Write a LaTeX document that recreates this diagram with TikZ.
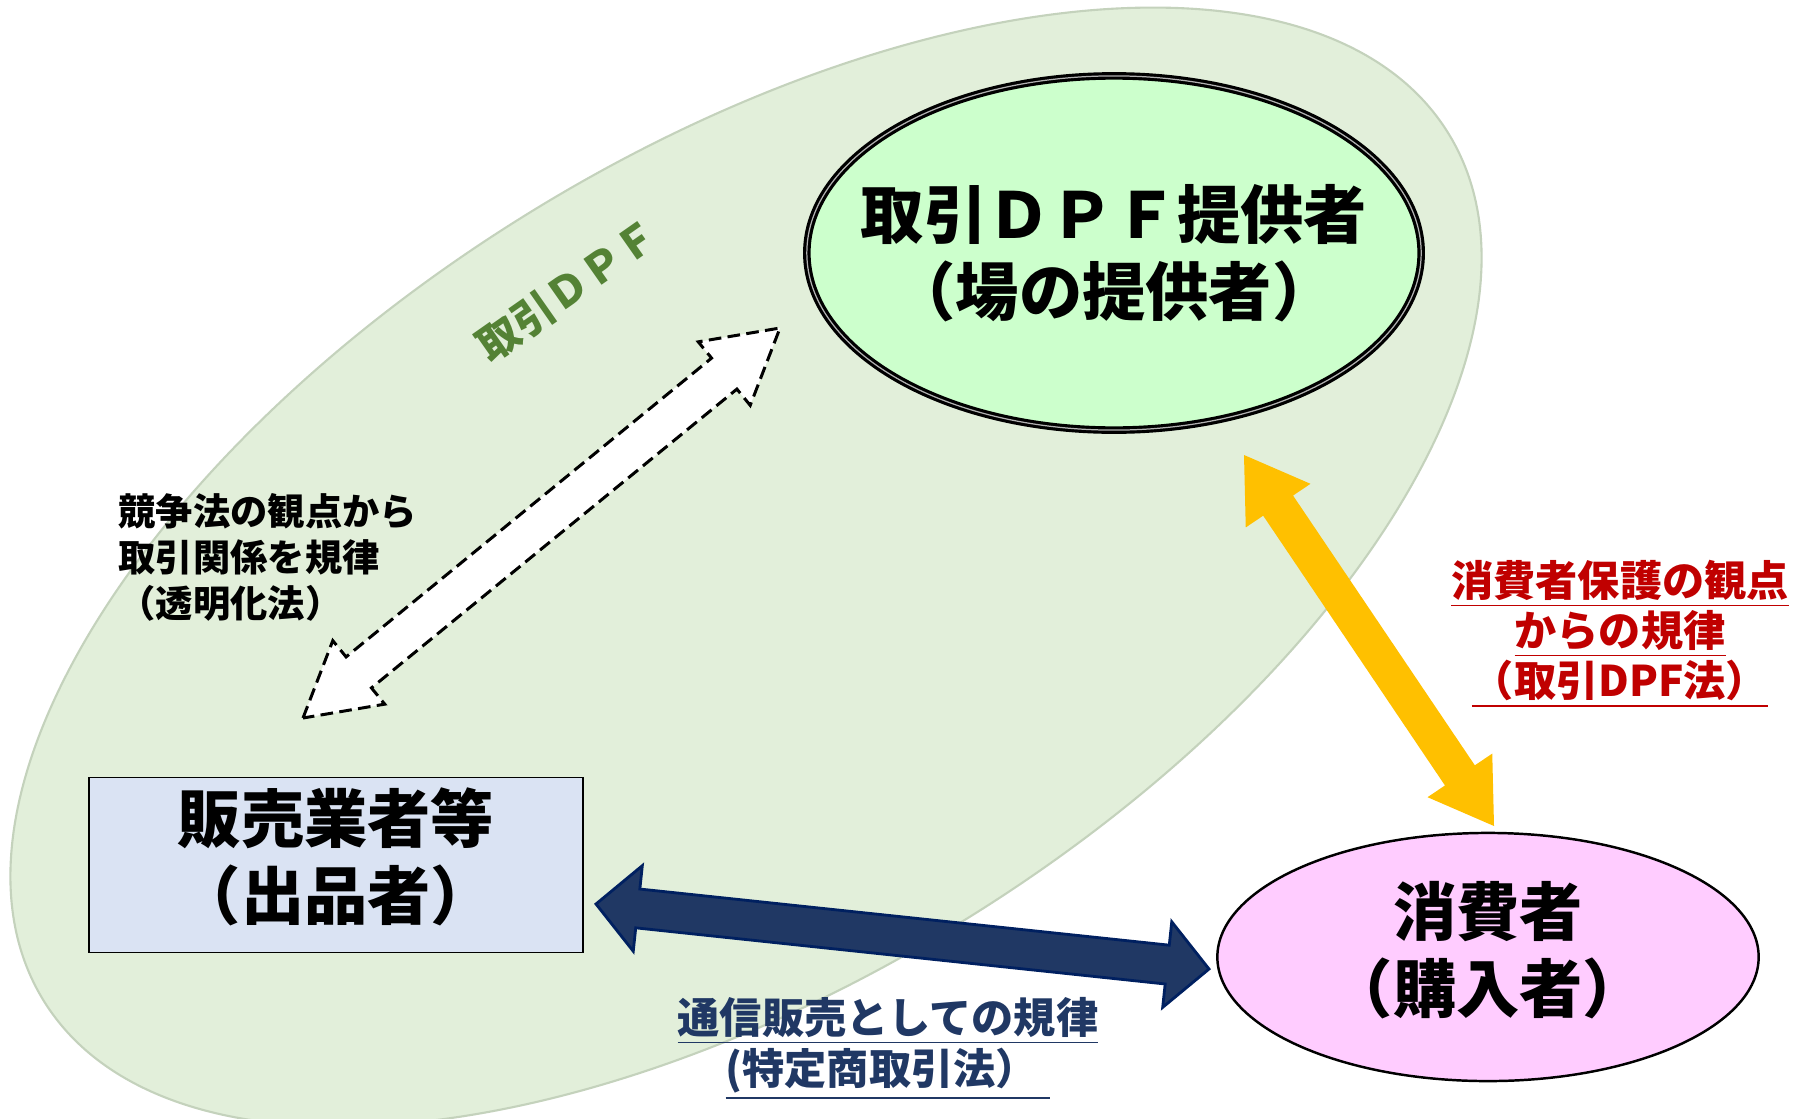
\documentclass[tikz,border=0pt]{standalone}
\usepackage{fontspec}
\newfontfamily\jp{Noto Sans CJK JP}
\usetikzlibrary{shapes.geometric,calc}
\definecolor{dpfgreen}{RGB}{226,239,218}
\definecolor{dpfedge}{RGB}{196,210,188}
\definecolor{provfill}{RGB}{204,255,204}
\definecolor{sellfill}{RGB}{218,227,243}
\definecolor{consfill}{RGB}{255,204,255}
\definecolor{labgreen}{RGB}{84,130,53}
\definecolor{lawred}{RGB}{192,0,0}
\definecolor{navyfill}{RGB}{32,56,100}
\definecolor{navyedge}{RGB}{0,32,96}
\definecolor{navytext}{RGB}{32,56,100}
\definecolor{amber}{RGB}{255,192,0}
% #1 style, #2 start, #3 end, #4 head length, #5 head half width, #6 shaft half width
\newcommand\blkarrow[6]{%
  \draw[#1] (#2) -- ($(#2)!#4!(#3)!#5!90:(#3)$) -- ($(#2)!#4!(#3)!#6!90:(#3)$)
    -- ($(#3)!#4!(#2)!#6!-90:(#2)$) -- ($(#3)!#4!(#2)!#5!-90:(#2)$) -- (#3)
    -- ($(#3)!#4!(#2)!#5!90:(#2)$) -- ($(#3)!#4!(#2)!#6!90:(#2)$)
    -- ($(#2)!#4!(#3)!#6!-90:(#3)$) -- ($(#2)!#4!(#3)!#5!-90:(#3)$) -- cycle;}
\begin{document}
\begin{tikzpicture}[x=0.01cm,y=-0.01cm,
  bigtext/.style={font=\jp\bfseries\fontsize{18pt}{21.9pt}\selectfont, align=center, inner sep=0pt},
  dpfarea/.style={ellipse, fill=dpfgreen, draw=dpfedge, line width=0.6pt, inner sep=0pt,
    minimum width=16.5cm, minimum height=8.3cm, rotate=31.7},
  provider/.style={ellipse, fill=provfill, draw=black, line width=0.9pt, double=gray!60, double distance=0.35pt, inner sep=0pt,
    minimum width=6.14cm, minimum height=3.54cm},
  seller/.style={rectangle, fill=sellfill, draw=black, line width=0.5pt, inner sep=0pt,
    minimum width=4.94cm, minimum height=1.75cm},
  consumer/.style={ellipse, fill=consfill, draw=black, line width=0.7pt, inner sep=0pt,
    minimum width=5.41cm, minimum height=2.48cm},
  dpflabel/.style={font=\jp\bfseries\fontsize{12pt}{13pt}\selectfont, text=labgreen, rotate=35, inner sep=0pt},
  smalltext/.style={font=\jp\bfseries\fontsize{10.6pt}{13.1pt}\selectfont, align=left, inner sep=0pt},
  redlaw/.style={font=\jp\bfseries\fontsize{12pt}{14pt}\selectfont, text=lawred, inner sep=0pt},
  navylaw/.style={font=\jp\bfseries\fontsize{12pt}{14pt}\selectfont, text=navytext, inner sep=0pt},
  dashedarrow/.style={fill=white, draw=black, line width=0.85pt, dash pattern=on 3.6pt off 1.8pt, line join=miter},
  yellowarrow/.style={fill=amber, draw=none},
  navyarrow/.style={fill=navyfill, draw=navyedge, line width=0.8pt, line join=miter}]
\useasboundingbox (0,0) rectangle (1797,1118);
\fill[white] (0,0) rectangle (1797,1118);

\node[dpfarea] (dpf) at (746,567) {};
\node[dpflabel] (dpflab) at (568,290) {取引ＤＰＦ};

\node[provider] (prov) at (1114,253) {};
\node[bigtext] (provtext) at (prov.center) {取引ＤＰＦ提供者\\（場の提供者）};
\node[seller] (sell) at (336,865) {};
\node[bigtext] (selltext) at ([yshift=0.08cm]sell.center) {販売業者等\\（出品者）};
\node[consumer] (cons) at (1488,957) {};
\node[bigtext] (constext) at ([yshift=0.07cm]cons.center) {消費者\\（購入者）};

% dashed white arrow between seller and provider
\coordinate (wa) at (303,718);
\coordinate (wb) at (780,328);
\blkarrow{dashedarrow}{wa}{wb}{0.72cm}{0.41cm}{0.20cm}

% yellow arrow between provider and consumer
\coordinate (ya) at (1244,455);
\coordinate (yb) at (1494,826);
\blkarrow{yellowarrow}{ya}{yb}{0.61cm}{0.39cm}{0.18cm}

% navy arrow between seller and consumer
\coordinate (na) at (596,904);
\coordinate (nb) at (1209,969);
\blkarrow{navyarrow}{na}{nb}{0.42cm}{0.43cm}{0.195cm}

\node[smalltext, anchor=west] (compet) at (118,557) {競争法の観点から\\取引関係を規律\\（透明化法）};

\node[redlaw] (r1) at (1620,584) {\underline{消費者保護の観点}};
\node[redlaw] (r2) at (1620,634) {\underline{からの規律}};
\node[redlaw] (r3) at (1620,684) {\underline{（取引DPF法）}};

\node[navylaw] (n1) at (888,1021) {\underline{通信販売としての規律}};
\node[navylaw] (n2) at (888,1074) {\underline{(特定商取引法）\hspace{0.3em}}};
\end{tikzpicture}
\end{document}
